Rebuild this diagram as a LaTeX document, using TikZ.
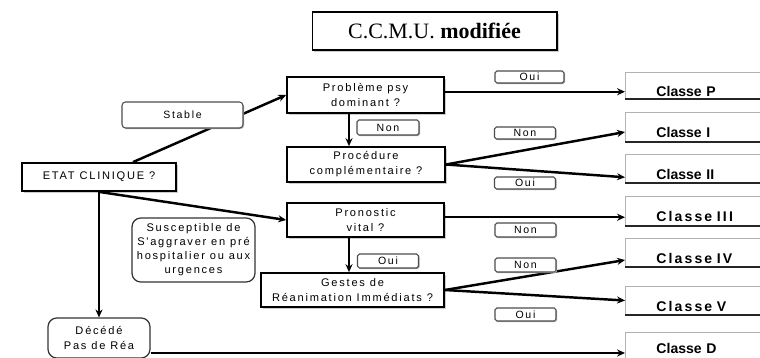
\documentclass[tikz,border=0pt]{standalone}
\usepackage{fontspec}
\setmainfont{Liberation Sans}
\newfontfamily\spacedfont[LetterSpace=16]{Liberation Sans}
\newfontfamily\widefont[LetterSpace=15]{Liberation Sans}
\newfontfamily\titlefont{Liberation Serif}
\usetikzlibrary{arrows.meta,positioning,shadows}

\begin{document}
\begin{tikzpicture}[
    x=0.02cm, y=-0.02cm,
    question/.style={rectangle, draw=black, line width=1pt, fill=white,
                     drop shadow={shadow xshift=1.2pt, shadow yshift=-1.2pt, fill=gray!40, opacity=1},
                     align=center, inner sep=1pt, font=\spacedfont\fontsize{6.3}{8.5}\selectfont},
    answer/.style={rectangle, rounded corners=1pt, draw=black!70, line width=0.6pt, fill=white,
                   drop shadow={shadow xshift=0.6pt, shadow yshift=-0.6pt, fill=gray!60, opacity=1},
                   minimum width=1.22cm, minimum height=0.26cm, inner sep=0pt,
                   font=\spacedfont\fontsize{6}{6.5}\selectfont},
    classe/.style={rectangle, draw=gray!60, line width=0.5pt, fill=white, anchor=west,
                   inner xsep=0.62cm, inner ysep=0.5pt, text width=1.6cm, align=left,
                   text height=12pt, text depth=0pt, font=\fontsize{8}{9}\selectfont\bfseries},
    note/.style={rectangle, rounded corners=5pt, draw=black!80, line width=0.7pt, fill=white,
                 align=center, inner sep=1pt, font=\spacedfont\fontsize{6.3}{8}\selectfont},
    arr/.style={-{Stealth[length=4.5pt, width=4pt]}, line width=1.4pt},
]
\useasboundingbox (0,0) rectangle (760,358);

% Titre
\node[draw=black, line width=0.6pt, fill=white,
      drop shadow={shadow xshift=1.2pt, shadow yshift=-1.2pt, fill=gray!40, opacity=1},
      minimum width=4.9cm, minimum height=0.76cm, font=\titlefont\fontsize{12.5}{14}\selectfont]
      (titre) at (434.5,31) {C.C.M.U. \textbf{modifiée}};

% Questions
\node[question, minimum width=3.08cm, minimum height=0.56cm] (etat) at (99,177) {ETAT CLINIQUE ?};
\node[question, minimum width=3.14cm, minimum height=0.72cm] (prob) at (365.5,95) {Problème psy\\dominant ?};
\node[question, minimum width=3.16cm, minimum height=0.70cm] (proc) at (366,164.5) {Procédure\\complémentaire ?};
\node[question, minimum width=3.14cm, minimum height=0.68cm] (prono) at (365.5,220) {Pronostic\\vital ?};
\node[question, minimum width=3.66cm, minimum height=0.68cm] (gestes) at (352.5,290) {Gestes de\\Réanimation Immédiats ?};

% Notes
\node[note, minimum width=2.46cm, minimum height=1.28cm] (risque) at (193.5,250)
      {Susceptible de\\S'aggraver en pré\\hospitalier ou aux\\urgences};
\node[note, minimum width=2.04cm, minimum height=0.8cm] (deces) at (99,338) {Décédé\\Pas de Réa};

% Classes
\node[classe, minimum height=0.54cm] (cP) at (625,85.5) {Classe P};
\node[classe, minimum height=0.60cm] (cI) at (625,127) {Classe I};
\node[classe, minimum height=0.58cm] (cII) at (625,168.5) {Classe II};
\node[classe, minimum height=0.60cm, font=\widefont\fontsize{8}{9}\selectfont\bfseries] (cIII) at (625,211) {Classe III};
\node[classe, minimum height=0.58cm, font=\widefont\fontsize{8}{9}\selectfont\bfseries] (cIV) at (625,252.5) {Classe IV};
\node[classe, minimum height=0.58cm, font=\widefont\fontsize{8}{9}\selectfont\bfseries] (cV) at (625,300.5) {Classe V};
\node[classe, minimum height=0.84cm, text height=6pt, text depth=5pt] (cD) at (625,353) {Classe D};
\foreach \c in {cP,cI,cII,cIII,cIV,cV}
  \draw[line width=1.2pt, black!85] (\c.south west) -- (\c.south east);

% Arrows
\draw[arr] (etat) -- (prob.west);
\draw[arr] (etat.south) -- (prono.west);
\draw[arr] (etat.south) -- (deces.north);
\draw[arr] ([xshift=-0.33cm]prob.south) -- ([xshift=-0.33cm]prob.south |- proc.north);
\draw[arr] ([xshift=-0.33cm]prono.south) -- ([xshift=-0.33cm]prono.south |- gestes.north);
\draw[arr] (prob.east |- cP.185) -- (cP.185);
\draw[arr] (proc.east) -- (cI.184);
\draw[arr] (proc.east) -- (cII.187);
\draw[arr] (prono.east |- cIII.185) -- (cIII.185);
\draw[arr] (gestes.east) -- (cIV.186);
\draw[arr] (gestes.east) -- (cV.west);
\draw[arr] (deces.east |- cD.west) -- (cD.west);

% Answers
\node[answer, rounded corners=2pt, minimum width=2.42cm, minimum height=0.52cm] (stable) at (182.5,115) {Stable};
\node[answer, minimum width=1.24cm, minimum height=0.30cm] (non1) at (388,127.5) {Non};
\node[answer, minimum height=0.28cm] (oui1) at (388,261) {Oui};
\node[answer, minimum width=1.38cm, minimum height=0.24cm] (oui2) at (529.5,77) {Oui};
\node[answer, minimum height=0.24cm] (non2) at (525,133) {Non};
\node[answer, minimum height=0.24cm] (oui3) at (525,183) {Oui};
\node[answer, minimum height=0.28cm] (non3) at (525.5,230) {Non};
\node[answer, minimum height=0.28cm] (non4) at (525.5,265) {Non};
\node[answer, minimum height=0.26cm] (oui4) at (525.5,314.5) {Oui};
\end{tikzpicture}
\end{document}
